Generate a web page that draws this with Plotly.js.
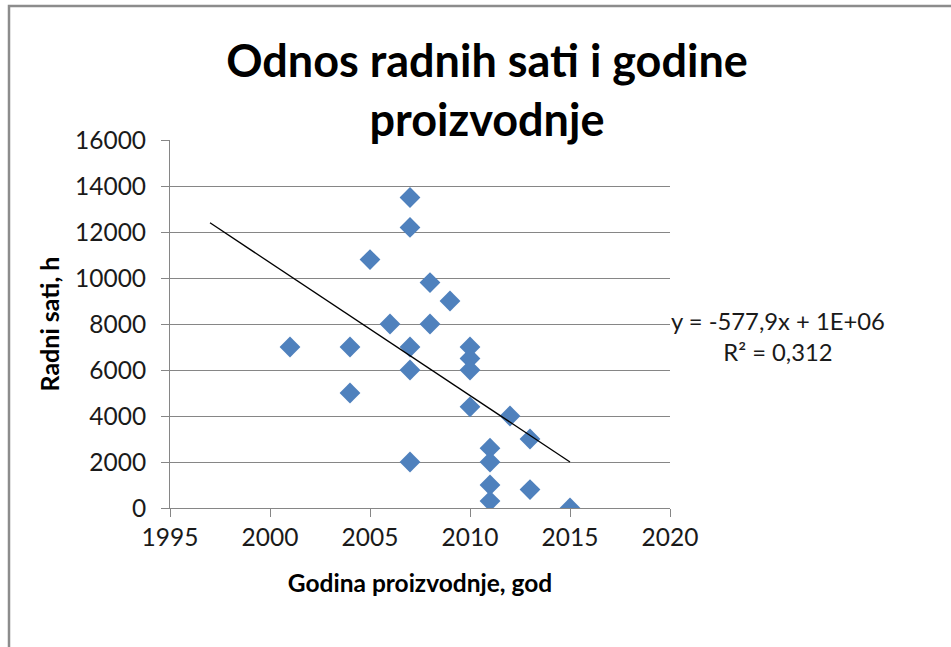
<!DOCTYPE html>
<html>
<head>
<meta charset="utf-8">
<script src="https://cdn.plot.ly/plotly-3.0.1.min.js"></script>
<style>
  html, body { margin: 0; padding: 0; background: #fff; }
  #chart { width: 951px; height: 647px; }
</style>
</head>
<body>
<div id="chart"></div>
<script>
// Data
var godina = [2001, 2004, 2004, 2005, 2006, 2007, 2007, 2007, 2007, 2007, 2008, 2008, 2009,
              2010, 2010, 2010, 2010, 2011, 2011, 2011, 2011, 2012, 2013, 2013, 2015];
var radniSati = [7000, 7000, 5000, 10800, 8000, 13500, 12200, 7000, 6000, 2000, 9800, 8000, 9000,
                 7000, 6500, 6000, 4400, 2600, 2000, 1000, 300, 4000, 3000, 800, 0];
// Linear trendline as drawn in the reference (endpoints)
var trendX = [1997, 2015];
var trendY = [12400, 2000];
var xTicks = [1995, 2000, 2005, 2010, 2015, 2020];
var yTicks = [0, 2000, 4000, 6000, 8000, 10000, 12000, 14000, 16000];
var titleText = 'Odnos radnih sati i godine<br>proizvodnje';
var xTitle = 'Godina proizvodnje, god';
var yTitle = 'Radni sati, h';
var equationText = 'y = -577,9x + 1E+06<br>R² = 0,312';

var FONT = 'Lato, "Open Sans", sans-serif';
var GRID = '#868686';

var traces = [
  {
    x: godina, y: radniSati, type: 'scatter', mode: 'markers',
    marker: { symbol: 'diamond', size: 16, color: '#4F81BD', line: { width: 0 } },
    hoverinfo: 'x+y', showlegend: false
  },
  {
    x: trendX, y: trendY, type: 'scatter', mode: 'lines',
    line: { color: '#000000', width: 1.3 },
    hoverinfo: 'skip', showlegend: false
  }
];

var layout = {
  width: 951, height: 647,
  margin: { l: 170, r: 281, t: 140, b: 139 },
  paper_bgcolor: '#ffffff', plot_bgcolor: '#ffffff',
  font: { family: FONT, color: '#1a1a1a' },
  title: {
    text: titleText,
    font: { family: FONT, size: 45, weight: 'bold', color: '#000' },
    xref: 'container', x: 487 / 951, xanchor: 'center',
    yref: 'container', y: 1 - 77 / 647, yanchor: 'top'
  },
  xaxis: {
    range: [1995, 2020], tickvals: xTicks, ticktext: xTicks.map(String),
    showgrid: false, zeroline: false,
    showline: true, linecolor: GRID, linewidth: 1,
    ticks: 'outside', ticklen: 8, tickcolor: GRID, tickwidth: 1,
    tickfont: { family: FONT, size: 24.5, color: '#1a1a1a' },
    title: { text: xTitle, font: { family: FONT, size: 24.5, weight: 'bold', color: '#000' }, standoff: 24 }
  },
  yaxis: {
    range: [0, 16000], tickvals: yTicks, ticktext: yTicks.map(String),
    showgrid: true, gridcolor: GRID, gridwidth: 1, zeroline: false,
    showline: true, linecolor: GRID, linewidth: 1,
    ticks: 'outside', ticklen: 8, tickcolor: GRID, tickwidth: 1,
    ticklabelstandoff: 10,
    tickfont: { family: FONT, size: 24.5, color: '#1a1a1a' },
    title: { text: yTitle, font: { family: FONT, size: 25, weight: 'bold', color: '#000' }, standoff: 8 }
  },
  annotations: [
    {
      text: equationText, xref: 'paper', yref: 'paper',
      x: (778 - 170) / 500, y: (508 - 336) / 368, xanchor: 'center', yanchor: 'middle',
      showarrow: false, align: 'center',
      font: { family: FONT, size: 23.8, color: '#1a1a1a' }
    }
  ],
  shapes: [
    {
      type: 'path', xref: 'paper', yref: 'paper', layer: 'above',
      path: 'M ' + ((9 - 170) / 500) + ' ' + ((508 - 700) / 368) +
            ' L ' + ((9 - 170) / 500) + ' ' + ((508 - 6) / 368) +
            ' L ' + ((1000 - 170) / 500) + ' ' + ((508 - 6) / 368),
      line: { color: '#8c8c8c', width: 2.5 }
    }
  ]
};

Plotly.newPlot('chart', traces, layout, { displayModeBar: false, staticPlot: true });
</script>
</body>
</html>
